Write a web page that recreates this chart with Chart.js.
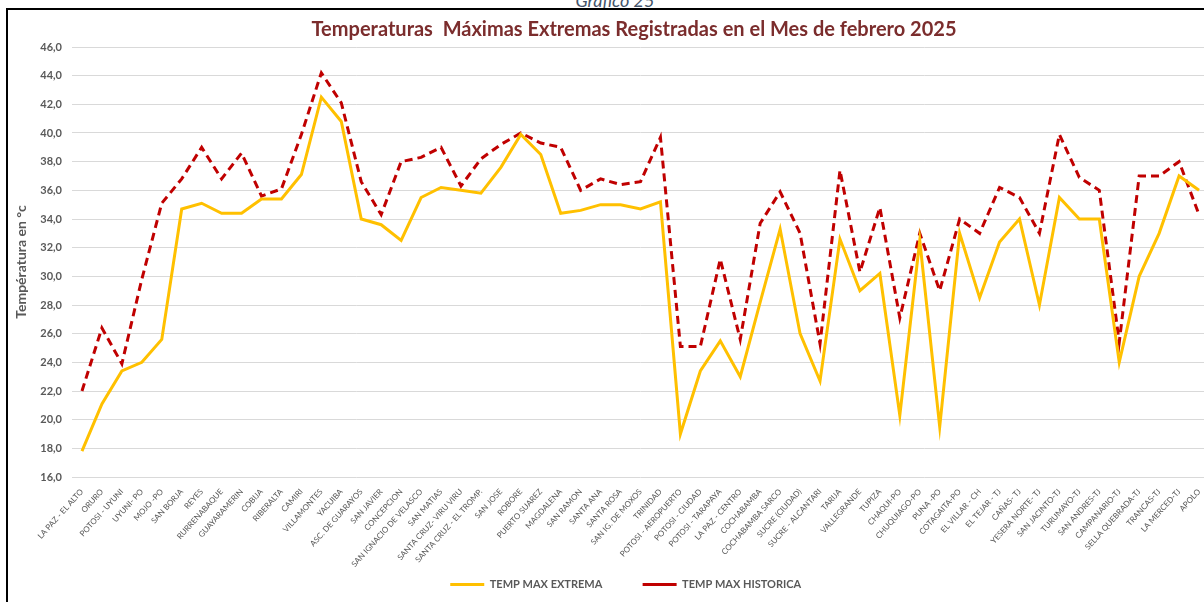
<!DOCTYPE html>
<html>
<head>
<meta charset="utf-8">
<script src="https://cdn.jsdelivr.net/npm/chart.js@4"></script>
<style>
  html, body { margin: 0; padding: 0; background: #fff; overflow: hidden; }
  body { width: 1204px; height: 602px; position: relative; }
  #caption {
    position: absolute; left: 0; width: 1230px; top: -11px;
    text-align: center; font: italic 18px Lato, sans-serif; color: #44546A;
  }
  #frame {
    position: absolute; left: 6px; top: 8px; width: 1300px; height: 700px;
    border-left: 2px solid #000; border-top: 2px solid #000;
  }
  #wrap { position: absolute; left: 9px; top: 11px; width: 1250px; height: 589px; }
</style>
</head>
<body>
<div id="caption">Gráfico 25</div>
<div id="frame"></div>
<div id="wrap"><canvas id="chart"></canvas></div>
<script>
const stations = [
    'LA PAZ - EL ALTO', 'ORURO', 'POTOSI - UYUNI', 'UYUNI- PO', 'MOJO -PO', 'SAN BORJA', 'REYES',
    'RURRENABAQUE', 'GUAYARAMERIN', 'COBIJA', 'RIBERALTA', 'CAMIRI', 'VILLAMONTES', 'YACUIBA',
    'ASC. DE GUARAYOS', 'SAN JAVIER', 'CONCEPCION', 'SAN IGNACIO DE VELASCO', 'SAN MATIAS',
    'SANTA CRUZ- VIRU VIRU', 'SANTA CRUZ - EL TROMP.', 'SAN JOSE', 'ROBORE', 'PUERTO SUAREZ',
    'MAGDALENA', 'SAN RAMON', 'SANTA ANA', 'SANTA ROSA', 'SAN IG. DE MOXOS', 'TRINIDAD',
    'POTOSI - AEROPUERTO', 'POTOSI - CIUDAD', 'POTOSI - TARAPAYA', 'LA PAZ - CENTRO', 'COCHABAMBA',
    'COCHABAMBA SARCO', 'SUCRE (CIUDAD)', 'SUCRE - ALCANTARI', 'TARIJA', 'VALLEGRANDE', 'TUPIZA',
    'CHAQUI-PO', 'CHUQUIAGO-PO', 'PUNA -PO', 'COTAGAITA-PO', 'EL VILLAR - CH', 'EL TEJAR - TJ',
    'CAÑAS- TJ', 'YESERA NORTE- TJ', 'SAN JACINTO-TJ', 'TURUMAYO-TJ', 'SAN ANDRES-TJ',
    'CAMPANARIO-TJ', 'SELLA QUEBRADA-TJ', 'TRANCAS-TJ', 'LA MERCED-TJ', 'APOLO'
];

const tempMaxExtrema = [
    17.8, 21.1, 23.4, 24.0, 25.6, 34.7, 35.1, 34.4, 34.4, 35.4,
    35.4, 37.1, 42.5, 40.8, 34.0, 33.6, 32.5, 35.5, 36.2, 36.0,
    35.8, 37.6, 39.9, 38.5, 34.4, 34.6, 35.0, 35.0, 34.7, 35.2,
    19.0, 23.4, 25.5, 23.0, 28.2, 33.3, 26.0, 22.7, 32.6, 29.0,
    30.2, 20.3, 32.5, 19.5, 33.0, 28.5, 32.4, 34.0, 28.0, 35.5,
    34.0, 34.0, 24.0, 30.0, 33.0, 37.0, 36.0
];

const tempMaxHistorica = [
    22.0, 26.4, 23.9, 29.8, 35.1, 36.8, 39.0, 36.8, 38.6, 35.6,
    36.1, 39.9, 44.2, 42.1, 36.6, 34.3, 38.0, 38.3, 39.0, 36.3,
    38.2, 39.2, 40.0, 39.3, 39.0, 36.0, 36.8, 36.4, 36.6, 39.7,
    25.1, 25.1, 31.2, 25.6, 33.7, 35.9, 33.0, 25.3, 37.4, 30.3,
    34.8, 27.1, 33.0, 29.0, 34.0, 33.0, 36.2, 35.5, 33.0, 39.9,
    36.9, 36.0, 25.4, 37.0, 37.0, 38.0, 34.3
];

const yMin = 16;
const yMax = 46;
const yStep = 2;

const grey = '#595959';

const ctx = document.getElementById('chart').getContext('2d');
new Chart(ctx, {
    type: 'line',
    data: {
        labels: stations,
        datasets: [{
            label: 'TEMP MAX EXTREMA',
            data: tempMaxExtrema,
            borderColor: '#FFC000',
            backgroundColor: '#FFC000',
            borderWidth: 3,
            pointRadius: 0,
            tension: 0
        }, {
            label: 'TEMP MAX HISTORICA',
            data: tempMaxHistorica,
            borderColor: '#C00000',
            backgroundColor: '#C00000',
            borderWidth: 3,
            borderDash: [8, 5],
            pointRadius: 0,
            tension: 0
        }]
    },
    options: {
        responsive: true,
        maintainAspectRatio: false,
        animation: false,
        layout: { padding: 0 },
        plugins: {
            title: {
                display: true,
                text: 'Temperaturas  Máximas Extremas Registradas en el Mes de febrero 2025',
                color: '#7B2D2D',
                font: { family: 'Lato', size: 20, weight: 'bold' },
                padding: { top: 7, bottom: 5 }
            },
            legend: {
                position: 'bottom',
                labels: {
                    usePointStyle: true,
                    pointStyle: 'line',
                    pointStyleWidth: 34,
                    boxHeight: 11,
                    padding: 10,
                    color: grey,
                    font: { family: 'Lato', size: 11, weight: 'bold' },
                    // extra trailing room: wider gap between items, group sits a bit left
                    generateLabels(chart) {
                        const items = Chart.defaults.plugins.legend.labels.generateLabels(chart);
                        items[0].text += '\u2003\u2003\u2003\u2002';
                        items[1].text += '\u2003\u2003';
                        return items;
                    }
                }
            },
            tooltip: { enabled: false }
        },
        scales: {
            x: {
                offset: true,
                grid: { display: false },
                border: { display: false },
                ticks: {
                    autoSkip: false,
                    maxRotation: 48,
                    minRotation: 48,
                    padding: 2,
                    color: grey,
                    font: { family: 'Lato', size: 8 }
                },
                afterFit(scale) { scale.height = 92; }
            },
            y: {
                min: yMin,
                max: yMax,
                grid: { color: '#D9D9D9', lineWidth: 1, drawTicks: false },
                border: { display: false },
                ticks: {
                    stepSize: yStep,
                    padding: 10,
                    color: grey,
                    font: { family: 'Lato', size: 11, weight: 'bold' },
                    callback: v => v.toFixed(1).replace('.', ',')
                },
                title: {
                    display: true,
                    text: 'Températura en °c',
                    color: grey,
                    font: { family: 'Lato', size: 14, weight: 'bold' },
                    padding: { top: 4, bottom: 0 }
                },
                afterFit(scale) { scale.width = 63; }
            },
            y2: {
                position: 'right',
                display: true,
                grid: { display: false },
                border: { display: false },
                ticks: { display: false },
                afterFit(scale) { scale.width = 50; }
            }
        }
    }
});
</script>
</body>
</html>
